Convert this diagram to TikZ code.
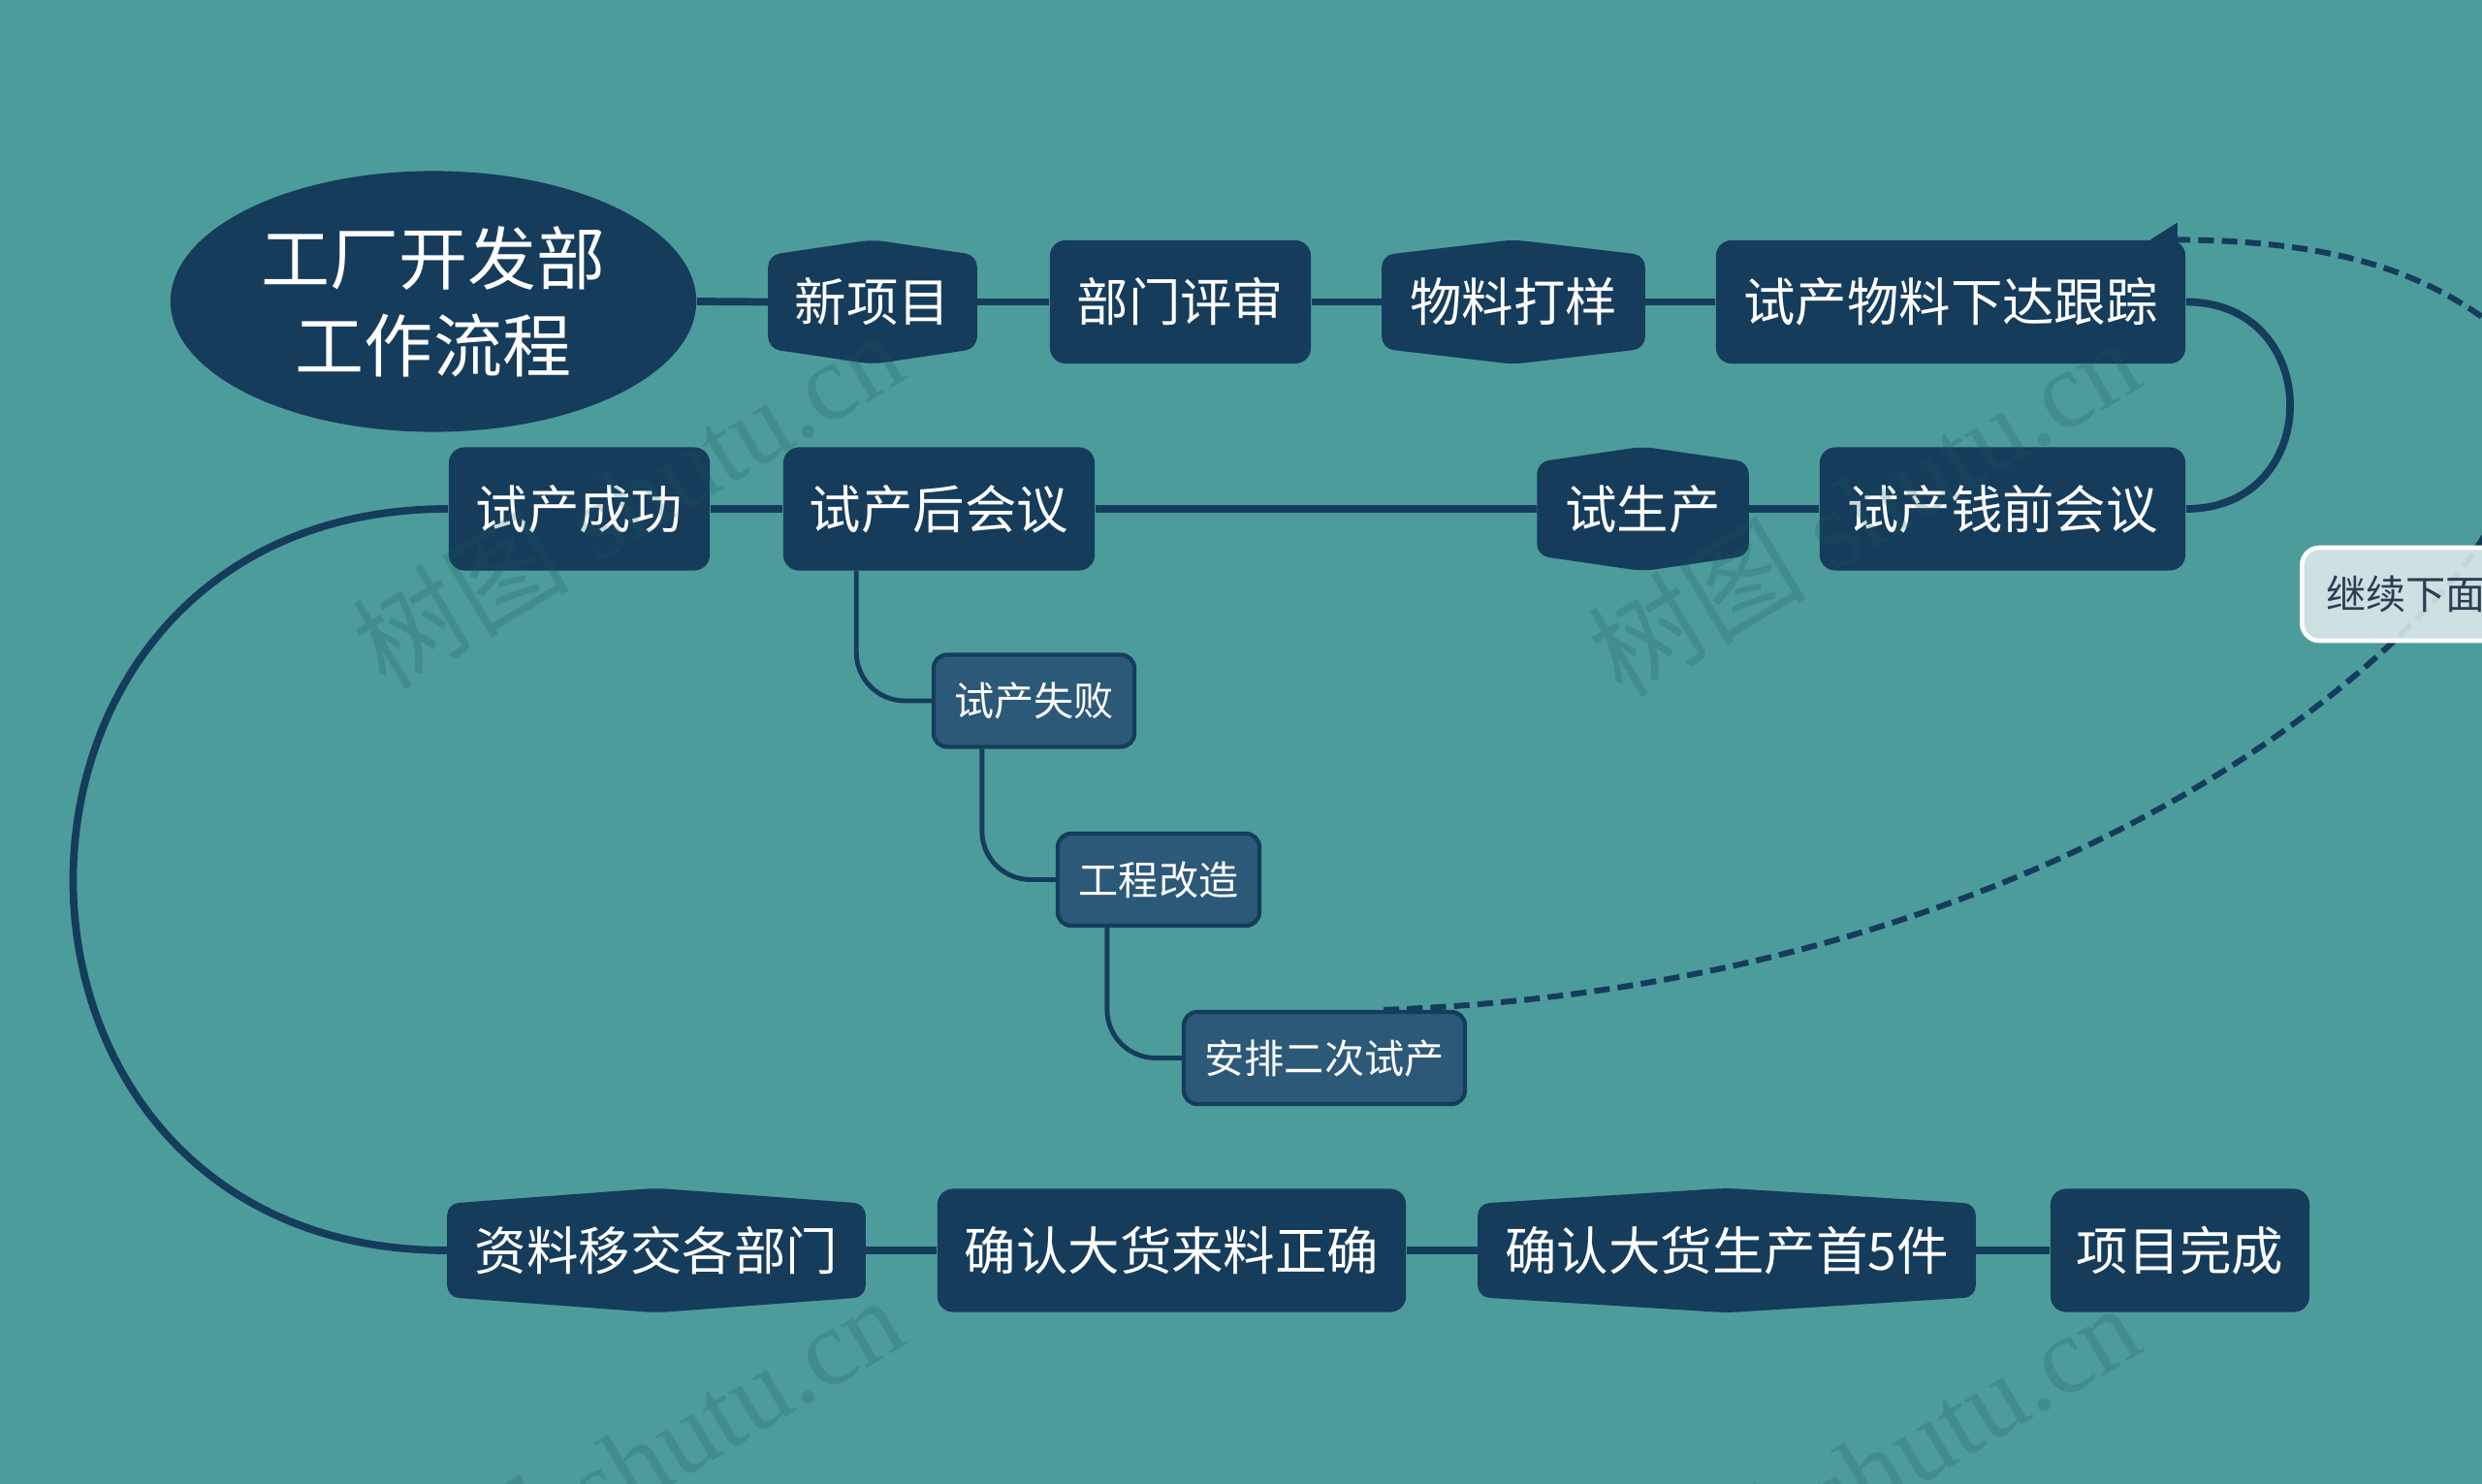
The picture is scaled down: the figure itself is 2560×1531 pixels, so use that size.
\documentclass[tikz,border=0pt]{standalone}
\usepackage{fontspec}
\newfontfamily\cjk{Noto Sans CJK SC}
\newfontfamily\wmfont{Liberation Serif}
\usetikzlibrary{shapes.geometric,arrows.meta,calc}
\definecolor{bgteal}{HTML}{4C9C9C}
\definecolor{navy}{HTML}{163C5C}
\definecolor{subblue}{HTML}{2D5978}
\definecolor{lblfill}{HTML}{DFEAEC}
\definecolor{lbltext}{HTML}{2C3E50}
\definecolor{wmcol}{RGB}{30,90,90}
\pgfdeclarelayer{lines}
\pgfdeclarelayer{shapes}
\pgfsetlayers{lines,shapes,main}
\tikzset{
  mainfont/.style={font=\cjk\fontsize{15.2}{18}\selectfont},
  rectnode/.style={fill=navy, rounded corners=0.16cm, text=white, mainfont,
    minimum height=1.27cm, inner sep=0pt},
  hexnode/.style={text=white, mainfont, minimum height=1.27cm, inner sep=0pt},
  subnode/.style={fill=subblue, draw=navy, line width=1.2pt, rounded corners=0.14cm,
    text=white, font=\cjk\fontsize{11.7}{14}\selectfont, minimum height=0.95cm, inner sep=0pt},
  rootnode/.style={ellipse, fill=navy, text=white, align=center,
    font=\cjk\fontsize{20.2}{25.6}\selectfont, inner sep=0pt},
  lblnode/.style={anchor=west, fill=lblfill, fill opacity=0.88, text opacity=1,
    draw=white, line width=1.3pt, rounded corners=0.18cm, text=lbltext,
    font=\cjk\fontsize{11.7}{14}\selectfont, text width=2.2cm, align=left,
    inner xsep=0.25cm, minimum height=0.96cm},
  link/.style={draw=navy, line width=2.2pt},
  sublink/.style={draw=navy, line width=1.4pt, rounded corners=0.5cm},
  dashlink/.style={draw=navy, line width=1.7pt, dash pattern=on 4.6pt off 2.3pt,
    -{Triangle[length=0.28cm,width=0.34cm]}},
  hexfill/.style={fill=navy, rounded corners=0.12cm},
  wm/.style={rotate=31, text=wmcol, text opacity=0.22, inner sep=0pt}
}
\begin{document}
\begin{tikzpicture}[x=0.01cm, y=-0.01cm]
\useasboundingbox (0,0) rectangle (2560,1531);

% root
\node[rootnode, minimum width=5.42cm, minimum height=2.69cm] (root) at (447,311) {工厂开发部\\工作流程};

% row 1
\node[hexnode, minimum width=2.14cm] (n1) at (900,311.5) {新项目};
\node[rectnode, minimum width=2.69cm] (n2) at (1217.5,311.5) {部门评审};
\node[hexnode, minimum width=2.70cm] (n3) at (1561,311.5) {物料打样};
\node[rectnode, minimum width=4.84cm] (n4) at (2012,311.5) {试产物料下达跟踪};

% row 2
\node[rectnode, minimum width=2.69cm] (m1) at (597.5,525) {试产成功};
\node[rectnode, minimum width=3.21cm] (m2) at (968.5,525) {试产后会议};
\node[hexnode, minimum width=2.17cm] (m3) at (1694.5,525) {试生产};
\node[rectnode, minimum width=3.77cm] (m4) at (2065.5,525) {试产钱前会议};

% sub branch
\node[subnode, minimum width=2.07cm] (s1) at (1066.5,723) {试产失败};
\node[subnode, minimum width=2.08cm] (s2) at (1195,907.5) {工程改造};
\node[subnode, minimum width=2.90cm] (s3) at (1366,1091.5) {安排二次试产};

% row 3
\node[hexnode, minimum width=4.30cm] (b1) at (677,1290) {资料移交各部门};
\node[rectnode, minimum width=4.83cm] (b2) at (1208.5,1290) {确认大货来料正确};
\node[hexnode, minimum width=5.12cm] (b3) at (1781,1290) {确认大货生产首5件};
\node[rectnode, minimum width=2.67cm] (b4) at (2248.5,1290) {项目完成};

% label of the dashed connector
\node[lblnode] (lbl) at (2372,613) {继续下面};

\begin{pgfonlayer}{lines}
  \fill[bgteal] (0,0) rectangle (2560,1531);
  \draw[link] (root.east) -- (n1.west);
  \draw[link] (n1.east) -- (n2.west);
  \draw[link] (n2.east) -- (n3.west);
  \draw[link] (n3.east) -- (n4.west);
  \draw[link] (n4.east) .. controls +(143,0) and +(143,0) .. (m4.east);
  \draw[link] (m4.west) -- (m3.east);
  \draw[link] (m3.west) -- (m2.east);
  \draw[link] (m2.west) -- (m1.east);
  \draw[link] (m1.west) .. controls +(-515,0) and +(-515,0) .. (b1.west);
  \draw[link] (b1.east) -- (b2.west);
  \draw[link] (b2.east) -- (b3.west);
  \draw[link] (b3.east) -- (b4.west);
  \draw[sublink] ([xshift=0.76cm]m2.south west) |- (s1.west);
  \draw[sublink] ([xshift=0.52cm]s1.south west) |- (s2.west);
  \draw[sublink] ([xshift=0.53cm]s2.south west) |- (s3.west);
  \coordinate (ds) at ([xshift=2.08cm]s3.north west);
  \coordinate (de) at ([xshift=-0.37cm]n4.north east);
  \draw[dashlink] (ds) .. controls (1900,1025) and (2300,850) .. (2520,610)
     .. controls (2600,520) and (2650,380) .. (2560,327)
     .. controls (2480,270) and (2380,248) .. (de);
\end{pgfonlayer}

\begin{pgfonlayer}{shapes}
  \foreach \h in {n1,n3,m3,b1,b3}{
    \fill[hexfill] ([yshift=-0.16cm]\h.north west) -- (\h.north)
      -- ([yshift=-0.16cm]\h.north east) -- ([yshift=0.16cm]\h.south east)
      -- (\h.south) -- ([yshift=0.16cm]\h.south west) -- cycle;
  }
\end{pgfonlayer}

% watermarks
\foreach \x/\y [count=\i] in {647/514, 1922/522, 647/1510, 1922/1518}{
  \node[wm] (wm\i) at (\x,\y) {\fontsize{32}{32}\selectfont\cjk 树图\wmfont\ shutu.cn};
}
\end{tikzpicture}
\end{document}
